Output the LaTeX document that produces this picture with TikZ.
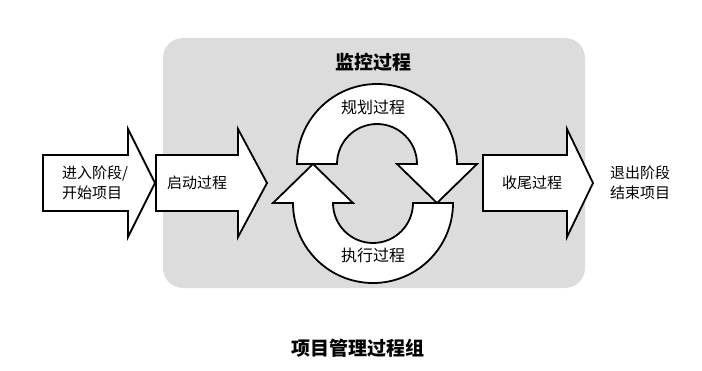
\documentclass[tikz,border=0pt]{standalone}
\usepackage{fontspec}
\newfontfamily\cjk{Noto Sans CJK SC}
\usetikzlibrary{positioning}
\definecolor{boxgray}{RGB}{220,220,220}

\begin{document}
\begin{tikzpicture}[
    x=1pt, y=1pt,
    blockarr/.style={draw=black, line width=1.8pt, fill=white, line join=miter},
    lbl/.style={font=\cjk\fontsize{15}{20}\selectfont, align=center, inner sep=0pt},
    ringlbl/.style={lbl, font=\cjk\fontsize{16}{20}\selectfont},
    title/.style={font=\cjk\bfseries\fontsize{19}{22}\selectfont, inner sep=0pt}
]
\useasboundingbox (0,0) rectangle (702,370);

% Background
\fill[boxgray, rounded corners=20pt] (163,82) rectangle (585,332);

% Block arrows
\draw[blockarr] (43,159) -- (128,159) -- (128,133) -- (155,187) -- (128,241) -- (128,215) -- (43,215) -- cycle;
\draw[blockarr] (156,159) -- (238,159) -- (238,133) -- (267,187) -- (238,241) -- (238,215) -- (156,215) -- cycle;
\draw[blockarr] (483,159) -- (567,159) -- (567,133) -- (593,187) -- (567,241) -- (567,215) -- (483,215) -- cycle;

% Cycle arrows
\draw[blockarr] (297,206) arc[start angle=180, end angle=0, radius=80] -- (477,206) -- (437,167) -- (397,206) -- (417,206) arc[start angle=0, end angle=180, radius=40] -- cycle;
\draw[blockarr] (453,167) arc[start angle=0, end angle=-180, radius=80] -- (273,167) -- (313,206) -- (353,167) -- (333,167) arc[start angle=180, end angle=360, radius=40] -- cycle;

% Labels
\node[title] (monitor) at (373,308) {监控过程};
\node[ringlbl] (plan) at (373,263) {规划过程};
\node[ringlbl] (exec) at (373,115) {执行过程};
\node[lbl, align=left, anchor=west] (enter) at (62,187) {进入阶段/\\开始项目};
\node[lbl] (init) at (197,187) {启动过程};
\node[lbl] (close) at (532,187) {收尾过程};
\node[lbl, align=left, anchor=west] (leave) at (610,187) {退出阶段\\结束项目};
\node[title] (caption) at (358,22) {项目管理过程组};

\end{tikzpicture}
\end{document}
